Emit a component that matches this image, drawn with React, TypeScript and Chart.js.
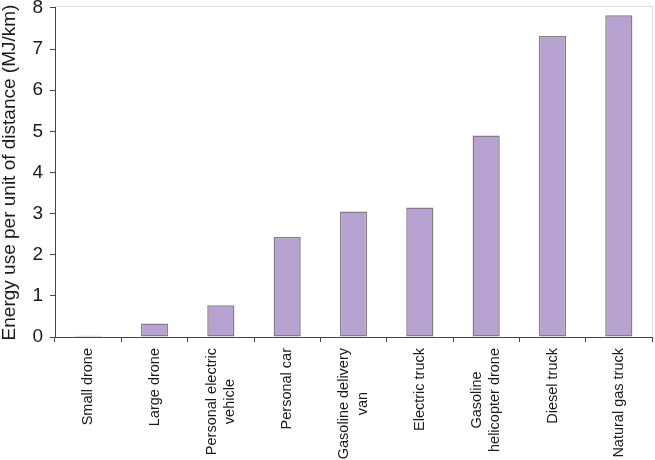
import { useEffect, useRef } from "react";
import { Chart, registerables } from "chart.js";

Chart.register(...registerables);

const categories: string[][] = [
  ["Small drone"],
  ["Large drone"],
  ["Personal electric", "vehicle"],
  ["Personal car"],
  ["Gasoline delivery", "van"],
  ["Electric truck"],
  ["Gasoline", "helicopter drone"],
  ["Diesel truck"],
  ["Natural gas truck"],
];
const energyValues = [0.03, 0.33, 0.77, 2.43, 3.05, 3.15, 4.9, 7.32, 7.82];
const yMin = 0;
const yMax = 8;
const yStep = 1;
const yTitle = "Energy use per unit of distance (MJ/km)";

const FONT = '"Liberation Sans", Arial, Helvetica, sans-serif';

const xLabelPlugin = {
  id: "xLabels",
  afterDraw(chart: any) {
    const xs = chart.scales.x;
    const ctx = chart.ctx as CanvasRenderingContext2D;
    ctx.save();
    ctx.font = `14.5px ${FONT}`;
    ctx.fillStyle = "#1a1a1a";
    ctx.textBaseline = "middle";
    ctx.textAlign = "center";
    const lh = 18.5;
    const top = chart.chartArea.bottom + 11;
    categories.forEach((lines, i) => {
      const px = xs.getPixelForValue(i);
      const w = Math.max(...lines.map((l) => ctx.measureText(l).width));
      ctx.save();
      ctx.translate(px, top);
      ctx.rotate(-Math.PI / 2);
      lines.forEach((l, j) => {
        ctx.fillText(l, -w / 2, (j - (lines.length - 1) / 2) * lh);
      });
      ctx.restore();
    });
    ctx.restore();
  },
};

const framePlugin = {
  id: "frame",
  afterDraw(chart: any) {
    const { top, right, left, bottom } = chart.chartArea;
    const ctx = chart.ctx as CanvasRenderingContext2D;
    ctx.save();
    ctx.strokeStyle = "#dcdcdc";
    ctx.lineWidth = 1;
    ctx.beginPath();
    ctx.moveTo(left, top - 1.5);
    ctx.lineTo(right + 0.5, top - 1.5);
    ctx.lineTo(right + 0.5, bottom);
    ctx.stroke();
    ctx.restore();
  },
};

export default function App() {
  const ref = useRef<HTMLCanvasElement | null>(null);
  useEffect(() => {
    document.body.style.margin = "0";
    const canvas = ref.current;
    if (!canvas) return;
    const chart = new Chart(canvas, {
      type: "bar",
      data: {
        labels: categories.map((c) => c.join(" ")),
        datasets: [
          {
            data: energyValues,
            backgroundColor: "#b6a1d1",
            borderColor: "#808080",
            borderWidth: 1.5,
            borderSkipped: false,
            categoryPercentage: 1,
            barPercentage: 0.41,
          },
        ],
      },
      options: {
        responsive: false,
        animation: false,
        layout: { padding: { top: 0, right: 3, bottom: 118, left: 0 } },
        plugins: {
          legend: { display: false },
          tooltip: { enabled: false },
        },
        scales: {
          x: {
            grid: {
              display: true,
              offset: true,
              drawOnChartArea: false,
              drawTicks: true,
              tickLength: 5,
              color: "#444",
            },
            border: { display: true, color: "#444" },
            ticks: { display: false },
          },
          y: {
            min: yMin,
            max: yMax,
            grid: {
              display: true,
              drawOnChartArea: false,
              drawTicks: true,
              tickLength: 5,
              color: "#444",
            },
            border: { display: true, color: "#444" },
            ticks: {
              stepSize: yStep,
              padding: 7,
              color: "#1a1a1a",
              font: { family: FONT, size: 19, lineHeight: 0.1 },
            },
            title: {
              display: true,
              text: yTitle,
              color: "#1a1a1a",
              padding: 0,
              font: { family: FONT, size: 19, lineHeight: 1 },
            },
            afterFit: (scale: any) => {
              scale.width = 55;
            },
          },
        },
      },
      plugins: [xLabelPlugin, framePlugin],
    });
    return () => chart.destroy();
  }, []);
  return (
    <div style={{ width: 655, height: 460 }}>
      <canvas ref={ref} width={655} height={460} />
    </div>
  );
}
